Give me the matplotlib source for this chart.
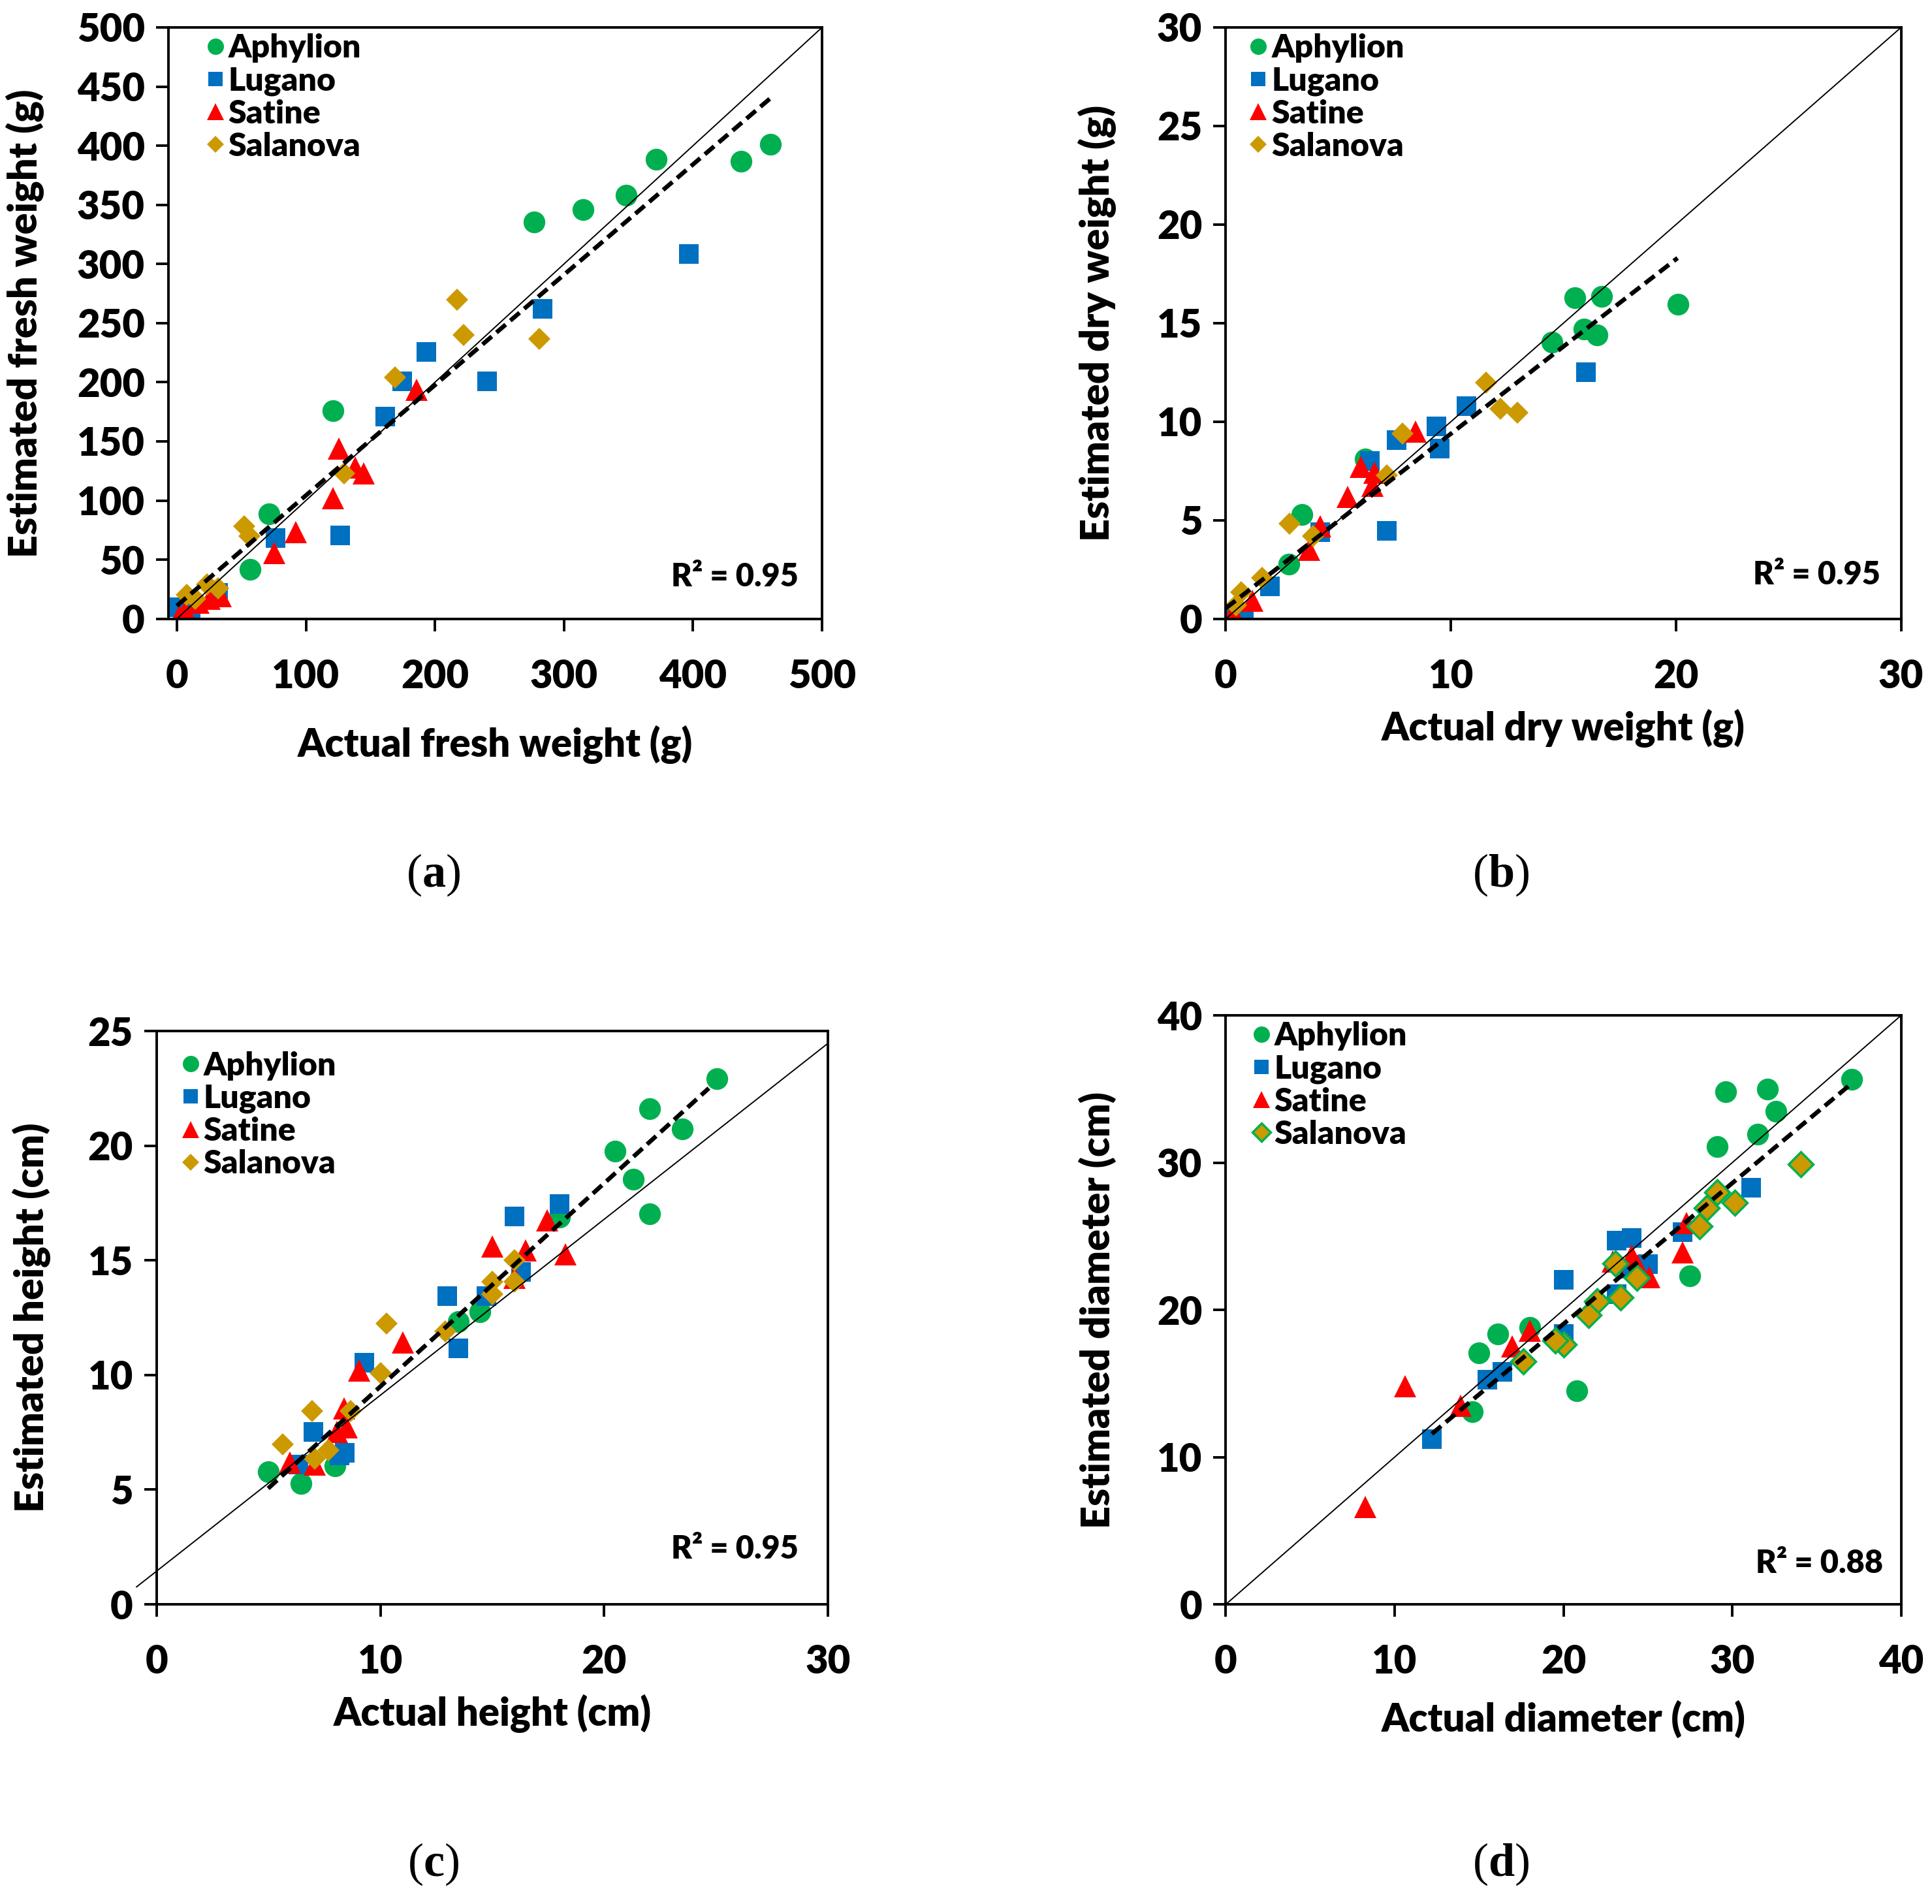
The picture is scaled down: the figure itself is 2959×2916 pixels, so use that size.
import matplotlib
matplotlib.use("Agg")
import matplotlib.pyplot as plt
import numpy as np

plt.rcParams['font.family'] = ['Lato', 'DejaVu Sans']
plt.rcParams['font.weight'] = 'heavy'
plt.rcParams['axes.labelweight'] = 'heavy'
plt.rcParams['mathtext.fontset'] = 'custom'
plt.rcParams['mathtext.rm'] = 'Liberation Serif'
plt.rcParams['mathtext.bf'] = 'Liberation Serif:bold'

cultivars = ["Aphylion", "Lugano", "Satine", "Salanova"]
colors = ["#00B050", "#0070C0", "#FF0000", "#CC9900"]
markers = ["o", "s", "^", "D"]
msizes = [24, 22, 25, 17]

# (a) fresh weight (g)
fw_aph_x = [121, 71.5, 56.6, 276.6, 315, 348, 371.5, 437, 460]
fw_aph_y = [176, 88.7, 41.7, 335.7, 346, 358, 388.7, 387, 401]
fw_lug_x = [396.6, 283.4, 193.6, 240.4, 174.5, 161.7, 126.8, 76.6, 2, 10.6, 32]
fw_lug_y = [308.5, 261.8, 225.4, 200.7, 200.7, 170.7, 70.7, 68.2, 10, 8, 22]
fw_sat_x = [186, 125.5, 138, 144.7, 121, 92.3, 75.7, 34, 25.5, 17, 6.4, 2]
fw_sat_y = [193.6, 144, 128, 123, 101.8, 73.5, 55.8, 19.4, 17, 13.4, 6.4, 2.8]
fw_sal_x = [217, 222, 281, 169, 129.8, 52.3, 56, 7.7, 23.4, 32, 14]
fw_sal_y = [269.6, 240, 236.7, 204, 123, 78, 70, 20.5, 29.3, 25.8, 17]

# (b) dry weight (g)
dw_aph_x = [15.5, 16.7, 20.1, 15.9, 16.5, 14.5, 6.2, 3.37, 2.8]
dw_aph_y = [16.3, 16.35, 15.96, 14.7, 14.4, 14.05, 8.1, 5.3, 2.76]
dw_lug_x = [16, 10.7, 9.36, 9.5, 7.6, 6.4, 7.16, 4.2, 1.96, 0.8, 0.2]
dw_lug_y = [12.5, 10.8, 9.75, 8.65, 9.07, 8.0, 4.47, 4.4, 1.65, 0.28, 0.1]
dw_sat_x = [8.43, 6.0, 6.6, 6.5, 5.4, 3.7, 4.2, 1.17, 0.44, 0.2]
dw_sat_y = [9.5, 7.7, 7.4, 6.74, 6.2, 3.5, 4.7, 0.91, 0.06, 0.0]
dw_sal_x = [11.56, 12.2, 12.96, 7.85, 7.16, 2.84, 3.86, 1.6, 0.68, 0.44]
dw_sal_y = [11.98, 10.66, 10.45, 9.39, 7.27, 4.83, 4.2, 2.08, 1.34, 0.7]

# (c) height (cm)
ht_aph_x = [25.05, 22.04, 23.5, 20.5, 21.3, 22.04, 18.0, 13.47, 14.46, 4.98, 6.45, 7.98]
ht_aph_y = [22.92, 21.6, 20.74, 19.75, 18.55, 17.02, 16.88, 12.34, 12.76, 5.77, 5.26, 6.03]
ht_lug_x = [18.0, 16.0, 13.0, 14.75, 16.3, 13.47, 9.29, 7.0, 8.42, 8.18, 6.33]
ht_lug_y = [17.46, 16.9, 13.43, 13.43, 14.5, 11.16, 10.53, 7.53, 6.62, 6.5, 6.08]
ht_sat_x = [17.46, 16.48, 15.0, 18.28, 16.0, 11.0, 9.04, 8.37, 8.5, 8.05, 7.07, 5.96]
ht_sat_y = [16.73, 15.43, 15.6, 15.25, 14.25, 11.43, 10.2, 8.53, 7.71, 7.53, 6.08, 6.17]
ht_sal_x = [10.27, 10.02, 12.9, 15.0, 15.0, 16.0, 16.0, 6.95, 5.64, 8.67, 7.68, 7.07]
ht_sal_y = [12.25, 10.07, 11.89, 14.07, 13.52, 15.0, 14.07, 8.44, 6.99, 8.44, 6.72, 6.35]

# (d) diameter (cm)
dm_aph_x = [37.07, 32.1, 29.6, 32.6, 31.5, 29.1, 27.5, 20.8, 18.0, 16.1, 15.0, 14.6]
dm_aph_y = [35.64, 35.0, 34.8, 33.5, 31.95, 31.1, 22.3, 14.5, 18.8, 18.36, 17.08, 13.1]
dm_lug_x = [31.1, 27.07, 23.16, 24.04, 25.0, 23.94, 23.16, 20.03, 20.03, 16.4, 15.5, 12.2]
dm_lug_y = [28.3, 25.3, 24.7, 24.87, 23.1, 22.8, 21.05, 22.04, 18.36, 15.8, 15.24, 11.2]
dm_sat_x = [27.07, 27.3, 24.04, 25.08, 24.4, 18.0, 16.97, 13.9, 10.6, 8.24, 22.9]
dm_sat_y = [23.9, 25.9, 23.7, 22.2, 23.0, 18.6, 17.5, 13.5, 14.8, 6.6, 23.3]
dm_sal_x = [34.04, 30.16, 29.1, 28.5, 28.05, 23.06, 24.36, 23.4, 22.0, 21.5, 20.03, 19.5, 17.6]
dm_sal_y = [29.9, 27.28, 28.0, 26.9, 25.67, 23.17, 22.18, 20.85, 20.6, 19.63, 17.65, 17.93, 16.5]

# trend lines: (x start, x end, intercept, slope)
fit_a = (0, 461.7, 11, 0.933)
fit_b = (0, 20.07, 0.54, 0.885)
fit_c = (4.98, 24.68, 0.64, 0.886)
fit_d = (12.2, 36.9, -0.1, 0.957)
# reference lines (x start, x end, intercept, slope)
ref_a = (0, 500, 0, 1)
ref_b = (0, 30, 0, 1)
ref_c = (-0.9, 30, 1.45, 0.767)
ref_d = (0, 40, 0, 1)

r2_text = ["R² = 0.95", "R² = 0.95", "R² = 0.95", "R² = 0.88"]
xlabels = ["Actual fresh weight (g)", "Actual dry weight (g)", "Actual height (cm)", "Actual diameter (cm)"]
ylabels = ["Estimated fresh weight (g)", "Estimated dry weight (g)", "Estimated height (cm)", "Estimated diameter (cm)"]
panel_tags = ["a", "b", "c", "d"]

fig = plt.figure(figsize=(29.59, 29.16), dpi=100)

panels = [
    dict(rect=[0.0872, 0.675, 0.3383, 0.3106], xlim=(-6.5, 500), ylim=(0, 500),
         xt=np.arange(0, 501, 100), yt=np.arange(0, 501, 50),
         data=[(fw_aph_x, fw_aph_y), (fw_lug_x, fw_lug_y), (fw_sat_x, fw_sat_y), (fw_sal_x, fw_sal_y)],
         fit=fit_a, ref=ref_a, leg=(0.058, 0.99), r2=(0.964, 0.071), ylc=-0.19, xlc=-0.18,
         tag=(0.2244, 0.5405), sal_edge=None, sal_ms=17),
    dict(rect=[0.6345, 0.675, 0.3495, 0.3106], xlim=(0, 30), ylim=(0, 30),
         xt=np.arange(0, 31, 10), yt=np.arange(0, 31, 5),
         data=[(dw_aph_x, dw_aph_y), (dw_lug_x, dw_lug_y), (dw_sat_x, dw_sat_y), (dw_sal_x, dw_sal_y)],
         fit=fit_b, ref=ref_b, leg=(0.035, 0.99), r2=(0.969, 0.074), ylc=-0.162, xlc=-0.152,
         tag=(0.7767, 0.5405), sal_edge=None, sal_ms=17),
    dict(rect=[0.0811, 0.1574, 0.3474, 0.3011], xlim=(0, 30), ylim=(0, 25),
         xt=np.arange(0, 31, 10), yt=np.arange(0, 26, 5),
         data=[(ht_aph_x, ht_aph_y), (ht_lug_x, ht_lug_y), (ht_sat_x, ht_sat_y), (ht_sal_x, ht_sal_y)],
         fit=fit_c, ref=ref_c, leg=(0.037, 0.965), r2=(0.956, 0.096), ylc=-0.158, xlc=-0.157,
         tag=(0.2244, 0.0209), sal_edge=None, sal_ms=17),
    dict(rect=[0.6345, 0.1574, 0.3495, 0.3093], xlim=(0, 40), ylim=(0, 40),
         xt=np.arange(0, 41, 10), yt=np.arange(0, 41, 10),
         data=[(dm_aph_x, dm_aph_y), (dm_lug_x, dm_lug_y), (dm_sat_x, dm_sat_y), (dm_sal_x, dm_sal_y)],
         fit=fit_d, ref=ref_d, leg=(0.039, 0.99), r2=(0.973, 0.069), ylc=-0.162, xlc=-0.163,
         tag=(0.7767, 0.0209), sal_edge="#00B050", sal_ms=19),
]

for i, p in enumerate(panels):
    ax = fig.add_axes(p["rect"])
    handles = []
    for j, (xs, ys) in enumerate(p["data"]):
        ec = colors[j]
        mew = 0
        ms = msizes[j]
        if j == 3:
            ms = p["sal_ms"]
            if p["sal_edge"]:
                ec = p["sal_edge"]
                mew = 2.5
        h, = ax.plot(xs, ys, linestyle="none", marker=markers[j], ms=ms,
                     color=colors[j], mec=ec, mew=mew, label=cultivars[j], zorder=2)
        handles.append(h)

    x0, x1, b0, b1 = p["ref"]
    rx = np.array([x0, x1])
    ax.plot(rx, b0 + b1 * rx, color="black", lw=1.4, zorder=3, clip_on=False)
    x0, x1, b0, b1 = p["fit"]
    fx = np.array([x0, x1])
    ax.plot(fx, b0 + b1 * fx, color="black", lw=4.8, linestyle=(0, (2.8, 1.4)), zorder=4)

    ax.set_xlim(*p["xlim"])
    ax.set_ylim(*p["ylim"])
    ax.set_xticks(p["xt"])
    ax.set_yticks(p["yt"])
    for s in ax.spines.values():
        s.set_linewidth(2.8)
    ax.tick_params(axis="both", direction="out", length=14, width=2.8, labelsize=43)
    ax.tick_params(axis="x", pad=30)
    ax.tick_params(axis="y", pad=12)

    ax.set_xlabel(xlabels[i], fontsize=43, fontweight="heavy")
    ax.set_ylabel(ylabels[i], fontsize=44, fontweight="heavy")
    ax.xaxis.set_label_coords(0.5, p["xlc"])
    ax.yaxis.set_label_coords(p["ylc"], 0.5)

    ax.legend(handles=handles, loc="upper left", bbox_to_anchor=p["leg"], frameon=False,
              fontsize=36, markerscale=0.75, handlelength=0.55, handletextpad=0.12,
              labelspacing=0.1, borderpad=0, borderaxespad=0)

    ax.text(p["r2"][0], p["r2"][1], r2_text[i], transform=ax.transAxes,
            ha="right", va="center", fontsize=35)

    fig.text(p["tag"][0], p["tag"][1], r"($\mathbf{" + panel_tags[i] + "}$)",
             ha="center", va="center", fontsize=52, family="Liberation Serif",
             fontweight="normal")

fig.savefig("out.png", dpi=100)
plt.close()
